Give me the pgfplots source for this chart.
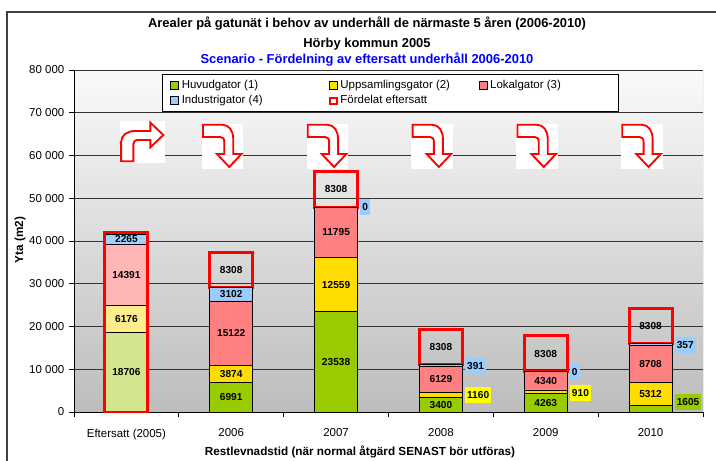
\documentclass[border=0pt]{standalone}
\usepackage{fontspec}
\setmainfont{Liberation Sans}
\usepackage{pgfplots}
\usepackage{pgfplotstable}
\pgfplotsset{compat=1.18}
\usetikzlibrary{patterns}

\definecolor{huvud}{HTML}{99CC00}
\definecolor{uppsaml}{HTML}{FFDD00}
\definecolor{lokal}{HTML}{FF8080}
\definecolor{indu}{HTML}{99CCFF}
\definecolor{huvudL}{HTML}{CFE384}
\definecolor{uppsamlL}{HTML}{FFEC80}
\definecolor{lokalL}{HTML}{FFB0B0}
\definecolor{induL}{HTML}{99CCFF}
\definecolor{lblyellow}{HTML}{FFFF00}
\definecolor{titleblue}{HTML}{0000FF}

% scenario 2006-2010: Huvud, Uppsamling, Lokal, Industri, fördelat eftersatt
\pgfplotstableread{
x   H      U      L      I     F
1   6991   3874   15122  3102  8308
2   23538  12559  11795  0     8308
3   3400   1160   6129   391   8308
4   4263   910    4340   0     8308
5   1605   5312   8708   357   8308
}\scenario

% eftersatt underhåll 2005
\pgfplotstableread{
x   H      U      L      I
0   18706  6176   14391  2265
}\eftersatt

\pgfplotsset{
  base/.style={scale only axis, width=471.75pt, height=256.5pt,
    xmin=-0.5, xmax=5.5, ymin=0, ymax=80000, bar width=32.25pt},
  sqlegend/.style={legend image code/.code={
    \draw[##1, draw=black, line width=0.5pt] (0pt,-3pt) rectangle (6pt,3pt);}},
}

\tikzset{
  lbl/.style={font=\fontsize{7.6}{9}\selectfont\bfseries, inner sep=0pt},
  olbl/.style={font=\fontsize{7.6}{9}\selectfont\bfseries, anchor=west,
    inner xsep=1.4pt, inner ysep=3.4pt, text height=5.4pt, text depth=0pt},
  turnarrow/.pic={
    \fill[white, x=0.75pt, y=0.75pt] (-0.5,0.5) rectangle (41,-44.5);
    \draw[red, line width=1.4pt, fill=white, x=0.75pt, y=0.75pt]
      (0.7,-0.7) -- (20,-0.7) .. controls (27,-0.7) and (31,-7) .. (31,-15)
      -- (31,-30) -- (39.3,-30) -- (27,-43) -- (14.7,-30) -- (22,-30) -- (22,-18)
      .. controls (22,-14.5) and (20.5,-13) .. (18,-13) -- (0.7,-13) -- cycle;
  },
}

\begin{document}
\begin{tikzpicture}
\useasboundingbox (-55.5pt,-36pt) rectangle (481.5pt,309pt);
\fill[white] (-55.5pt,-36pt) rectangle (481.5pt,309pt);
\draw[black!75, line width=1.2pt] (-50.25pt,-40pt) -- (-50.25pt,300pt) -- (490pt,300pt);

\begin{axis}[base,
    ybar stacked,
    axis background/.style={top color=white!98!black, bottom color=white!74!black},
    axis x line*=bottom, axis y line*=left,
    axis line style={black, line width=0.6pt},
    tick align=outside, major tick length=0pt, minor tick length=3.75pt,
    tick style={black, line width=0.6pt},
    ytick={0,10000,...,80000}, minor ytick={0,10000,...,80000},
    scaled y ticks=false,
    ymajorgrids, major grid style={black!80, line width=0.6pt},
    xtick={0,1,2,3,4,5},
    xticklabels={Eftersatt (2005),2006,2007,2008,2009,2010},
    minor xtick={-0.5,0.5,...,5.5},
    tick label style={font=\fontsize{8.6}{10}\selectfont},
    xticklabel style={yshift=-9pt},
    yticklabel style={xshift=-3.75pt},
    /pgf/number format/assume math mode=true,
    /pgf/number format/1000 sep={\ },
    legend columns=3,
    legend cell align=left,
    legend style={at={(0.14,0.988)}, anchor=north west, draw=black, line width=0.6pt,
      fill=white, font=\fontsize{8.6}{10}\selectfont, inner xsep=6pt, inner ysep=2pt,
      /tikz/every even column/.append style={column sep=0pt}},
  ]
  \addplot[fill=huvud, draw=black, line width=0.5pt, sqlegend] table[x=x, y=H] {\scenario};
  \addlegendentry{\makebox[108.5pt][l]{Huvudgator (1)}}
  \addplot[fill=uppsaml, draw=black, line width=0.5pt, sqlegend] table[x=x, y=U] {\scenario};
  \addlegendentry{\makebox[101.75pt][l]{Uppsamlingsgator (2)}}
  \addplot[fill=lokal, draw=black, line width=0.5pt, sqlegend] table[x=x, y=L] {\scenario};
  \addlegendentry{\makebox[88.5pt][l]{Lokalgator (3)}}
  \addplot[fill=indu, draw=black, line width=0.5pt, sqlegend] table[x=x, y=I] {\scenario};
  \addlegendentry{\makebox[108.5pt][l]{Industrigator (4)}}
  \addplot[fill=none, draw=red, line width=2.2pt,
    legend image code/.code={\draw[red, line width=1.5pt, fill=white] (0.7pt,-2.3pt) rectangle (5.3pt,2.3pt);}]
    table[x=x, y=F] {\scenario};
  \addlegendentry{\makebox[101.75pt][l]{Fördelat eftersatt}}

  \draw[black!40, line width=0.6pt] (rel axis cs:1,0) -- (rel axis cs:1,1);

  % pilar
  \path ([xshift=-4.5pt]axis cs:0,58480) pic[rotate=90] {turnarrow};
  \path ([xshift=-21.75pt]axis cs:1,67368) pic {turnarrow};
  \path ([xshift=-21.75pt]axis cs:2,67368) pic {turnarrow};
  \path ([xshift=-21.75pt]axis cs:3,67368) pic {turnarrow};
  \path ([xshift=-21.75pt]axis cs:4,67368) pic {turnarrow};
  \path ([xshift=-21.75pt]axis cs:5,67368) pic {turnarrow};
\end{axis}

% eftersatt 2005, mönstrade staplar
\begin{axis}[base, hide axis, ybar stacked]
  \addplot[fill=huvudL, draw=black, line width=0.5pt,
    postaction={pattern=crosshatch dots, pattern color=white!70!huvudL}] table[x=x, y=H] {\eftersatt};
  \addplot[fill=uppsamlL, draw=black, line width=0.5pt,
    postaction={pattern=crosshatch dots, pattern color=white!70!uppsamlL}] table[x=x, y=U] {\eftersatt};
  \addplot[fill=lokalL, draw=black, line width=0.5pt,
    postaction={pattern=crosshatch dots, pattern color=white!70!lokalL}] table[x=x, y=L] {\eftersatt};
  \addplot[fill=induL, draw=black, line width=0.5pt,
    postaction={pattern=crosshatch dots, pattern color=white!70!induL}] table[x=x, y=I] {\eftersatt};
\end{axis}

% röd ram runt eftersatt + dataetiketter
\begin{axis}[base, hide axis, ybar]
  \addplot[fill=none, draw=red, line width=2.2pt] coordinates {(0,42000)};

  \node[lbl] at (axis cs:0,9353) {18706};
  \node[lbl] at (axis cs:0,21794) {6176};
  \node[lbl] at (axis cs:0,32078) {14391};
  \node[lbl] at (axis cs:0,40406) {2265};

  \node[lbl] at (axis cs:1,3496) {6991};
  \node[lbl] at (axis cs:1,8928) {3874};
  \node[lbl] at (axis cs:1,18426) {15122};
  \node[lbl] at (axis cs:1,27538) {3102};
  \node[lbl] at (axis cs:1,33243) {8308};

  \node[lbl] at (axis cs:2,11769) {23538};
  \node[lbl] at (axis cs:2,29818) {12559};
  \node[lbl] at (axis cs:2,41995) {11795};
  \node[lbl] at (axis cs:2,52046) {8308};
  \node[olbl, fill=indu] at (axis cs:2.23,47953) {0};

  \node[lbl] at (axis cs:3,1700) {3400};
  \node[lbl] at (axis cs:3,7625) {6129};
  \node[lbl] at (axis cs:3,15234) {8308};
  \node[olbl, fill=indu] at (axis cs:3.23,10760) {391};
  \node[olbl, fill=lblyellow] at (axis cs:3.23,3977) {1160};

  \node[lbl] at (axis cs:4,2132) {4263};
  \node[lbl] at (axis cs:4,7343) {4340};
  \node[lbl] at (axis cs:4,13667) {8308};
  \node[olbl, fill=indu] at (axis cs:4.23,9357) {0};
  \node[olbl, fill=lblyellow] at (axis cs:4.23,4444) {910};

  \node[lbl] at (axis cs:5,4261) {5312};
  \node[lbl] at (axis cs:5,11271) {8708};
  \node[lbl] at (axis cs:5,20136) {8308};
  \node[olbl, fill=indu] at (axis cs:5.23,15673) {357};
  \node[olbl, fill=huvud] at (axis cs:5.23,2339) {1605};
\end{axis}

% titlar
\node[font=\fontsize{9.7}{11}\selectfont\bfseries] at (219.75pt,291pt)
  {Arealer på gatunät i behov av underhåll de närmaste 5 åren (2006-2010)};
\node[font=\fontsize{9.7}{11}\selectfont\bfseries] at (219.75pt,276pt) {Hörby kommun 2005};
\node[font=\fontsize{9.7}{11}\selectfont\bfseries, text=titleblue] at (219.75pt,264pt)
  {Scenario - Fördelning av eftersatt underhåll 2006-2010};
\node[font=\fontsize{8.8}{10}\selectfont\bfseries, rotate=90] at (-40.5pt,129pt) {Yta (m2)};
\node[font=\fontsize{8.8}{10}\selectfont\bfseries] at (214.5pt,-30pt)
  {Restlevnadstid (när normal åtgärd SENAST bör utföras)};
\end{tikzpicture}
\end{document}
